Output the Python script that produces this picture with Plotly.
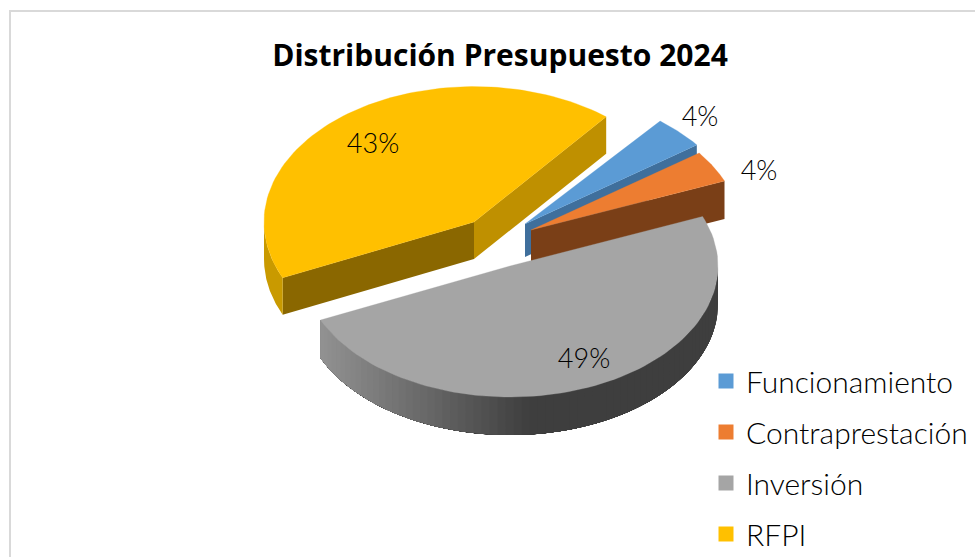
import numpy as np
import plotly.graph_objects as go

categories = ["Funcionamiento", "Contraprestación", "Inversión", "RFPI"]
values = [4.0, 4.0, 49.4, 42.6]
title_text = "Distribución Presupuesto 2024"

# Drawing style (not data)
top_colors = ["#5b9bd5", "#ed7d31", "#a5a5a5", "#ffc000"]
wall_colors = ["#3f6f9c", "#7a3f17", None, "#8a6700"]
apex_x = [525, 531, 510, 474]
apex_y = [224, 230, 266, 222]
radius = [214, 209, 208, 210]
depth = [33, 38, 38, 37]
tilts = [0.62, 0.62, 0.63, 0.645]
start_angle = 39.0
label_x = [700, 759, 584, 373]
label_y = [119, 173, 361, 146]
LABEL_FONT = "Lato Light, Lato"

angles = np.cumsum([0] + [v / sum(values) * 360 for v in values]) + start_angle


def rim(i, theta_deg):
    t = np.radians(theta_deg)
    return (apex_x[i] + radius[i] * np.sin(t),
            apex_y[i] - tilts[i] * radius[i] * np.cos(t))


def poly(fig, xs, ys, color, lw=0.0):
    fig.add_trace(go.Scatter(x=list(xs), y=list(ys), mode="lines", fill="toself",
                             fillcolor=color, line=dict(color=color, width=lw),
                             hoverinfo="skip", showlegend=False))


def mix(c1, c2, f):
    f = float(np.clip(f, 0, 1))
    return "rgb(%d,%d,%d)" % tuple(round(a + (b - a) * f) for a, b in zip(c1, c2))


def rim_wall(fig, i, a0, a1, color_fn, n):
    # each strip runs on to the far end of the wall, so no seams show between strips
    edges = np.linspace(a0, a1, n + 1)
    for a, b in zip(edges[:-1], edges[1:]):
        th = np.linspace(a, a1, 60)
        x, y = rim(i, th)
        xm = rim(i, (a + b) / 2)[0]
        poly(fig, [*x, *x[::-1]], [*y, *(y[::-1] + depth[i])], color_fn(xm))


def edge_wall(fig, i, theta, color):
    x, y = rim(i, theta)
    ax, ay = apex_x[i], apex_y[i]
    poly(fig, [ax, x, x, ax], [ay, y, y + depth[i], ay + depth[i]], color)


def top(fig, i):
    th = np.linspace(angles[i], angles[i + 1], 90)
    x, y = rim(i, th)
    poly(fig, [apex_x[i], *x, apex_x[i]], [apex_y[i], *y, apex_y[i]], top_colors[i], 0.3)


fig = go.Figure()

# frame
fig.add_shape(type="rect", x0=10, y0=11, x1=1000, y1=600,
              line=dict(color="#d9d9d9", width=2), fillcolor="white", layer="below")

# RFPI (back-most)
i = 3
edge_wall(fig, i, angles[4], "#bf9000")
edge_wall(fig, i, angles[3], wall_colors[i])
rim_wall(fig, i, 270, angles[3], lambda x: "#c99a00", 1)
top(fig, i)
# Funcionamiento
edge_wall(fig, 0, angles[1], wall_colors[0])
top(fig, 0)
# Contraprestación
edge_wall(fig, 1, angles[2], wall_colors[1])
top(fig, 1)
# Inversión
i = 2
rim_wall(fig, i, 90, angles[3], lambda x: mix((62, 62, 62), (146, 146, 146), (530 - x) / 210), 70)
top(fig, i)

# data labels
fig.add_trace(go.Scatter(x=label_x, y=label_y, mode="text",
                         text=[f"{round(v)}%" for v in values],
                         textfont=dict(family=LABEL_FONT, size=27, color="black"),
                         hoverinfo="skip", showlegend=False))

# legend entries
for k, (name, color) in enumerate(zip(categories, top_colors)):
    fig.add_trace(go.Scatter(x=[None], y=[None], mode="markers", name=name,
                             legendgroup=name,
                             marker=dict(symbol="square", size=15, color=color)))

fig.update_layout(
    width=975, height=557, margin=dict(l=0, r=0, t=0, b=0, autoexpand=False),
    paper_bgcolor="white", plot_bgcolor="white",
    title=dict(text=f"<b>{title_text}</b>", x=500 / 975, xanchor="center",
               y=1 - 55 / 557, yanchor="middle",
               font=dict(family="Open Sans", size=30, color="black")),
    xaxis=dict(range=[0, 975], visible=False, fixedrange=True),
    yaxis=dict(range=[557, 0], visible=False, fixedrange=True),
    legend=dict(x=706 / 975, xanchor="left", y=1 - 355 / 557, yanchor="top",
                tracegroupgap=9, bgcolor="rgba(0,0,0,0)",
                font=dict(family=LABEL_FONT, size=30, color="black")),
)

fig.write_html("out.html", config={"displayModeBar": False},
               post_script="document.body.style.margin='0';document.documentElement.style.overflow='hidden';")
